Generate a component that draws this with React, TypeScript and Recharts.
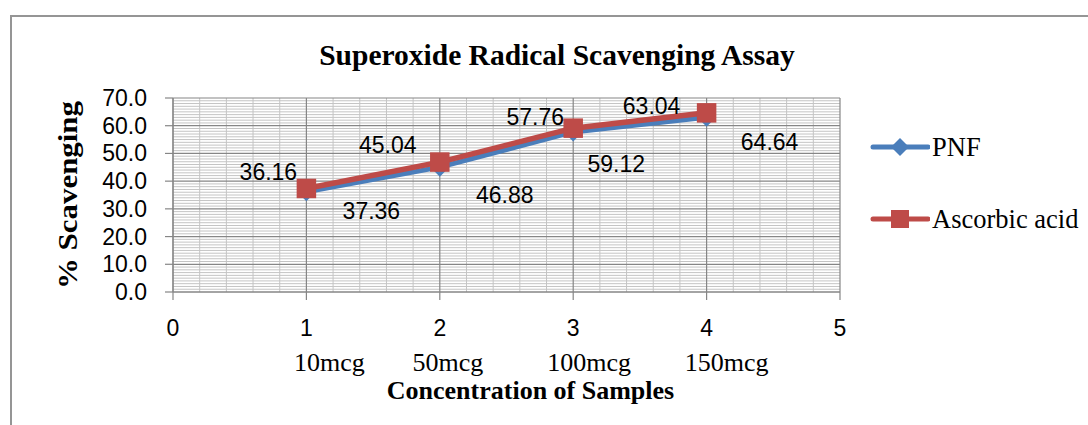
import React from 'react';
import { LineChart, Line, XAxis, YAxis, ReferenceLine, LabelList, Legend } from 'recharts';

const TITLE = 'Superoxide Radical Scavenging Assay';
const X_TITLE = 'Concentration of Samples';
const Y_TITLE = '% Scavenging';
const SERIES_NAMES = ['PNF', 'Ascorbic acid'];
const X_VALUES = [1, 2, 3, 4];
const CONCENTRATIONS = ['10mcg', '50mcg', '100mcg', '150mcg'];
const PNF = [36.16, 45.04, 57.76, 63.04];
const ASCORBIC = [37.36, 46.88, 59.12, 64.64];
const X_TICKS = [0, 1, 2, 3, 4, 5];
const Y_TICKS = [0, 10, 20, 30, 40, 50, 60, 70];

// style constants
const SANS = '"Liberation Sans", Arial, sans-serif';
const SERIF = '"Liberation Serif", "Times New Roman", serif';
const BLUE = '#4A7EBB';
const RED = '#BE4B48';
const MAJOR = '#868686';
const MINOR = '#c4c4c4';
const MCG_DX = [23, 8, 16, 20];
const PNF_LABEL_OFF = [[-38, -20], [-52, -22], [-38, -15], [-55, -11]];
const ASC_LABEL_OFF = [[65, 23], [65, 33], [43, 36], [63, 29]];

const data = X_VALUES.map((x, i) => ({ x, pnf: PNF[i], asc: ASCORBIC[i] }));

const minorY: number[] = [];
for (let v = 0; v <= 70; v += 1) if (v % 10 !== 0) minorY.push(v);
const minorX: number[] = [];
for (let k = 0; k <= 25; k += 1) if (k % 5 !== 0) minorX.push(k / 5);

const XTick = (props: any) => {
  const { x, y, payload } = props;
  const idx = X_VALUES.indexOf(payload.value);
  return (
    <g>
      <text x={x} y={y + 36} textAnchor="middle" fontFamily={SANS} fontSize={23} fill="#000">
        {payload.value}
      </text>
      {idx >= 0 && (
        <text x={x + MCG_DX[idx]} y={y + 71} textAnchor="middle" fontFamily={SERIF} fontSize={26} fill="#000">
          {CONCENTRATIONS[idx]}
        </text>
      )}
    </g>
  );
};

const YTick = (props: any) => {
  const { x, y, payload } = props;
  return (
    <text x={x} y={y + 8} textAnchor="end" fontFamily={SANS} fontSize={23} fill="#000">
      {Number(payload.value).toFixed(1)}
    </text>
  );
};

const Diamond = (props: any) => {
  const { cx, cy, index } = props;
  if (cx == null || cy == null) return <g key={`d${index}`} />;
  const r = 9.5;
  return (
    <path
      key={`d${index}`}
      d={`M${cx},${cy - r} L${cx + r},${cy} L${cx},${cy + r} L${cx - r},${cy} Z`}
      fill={BLUE}
      stroke="none"
    />
  );
};

const Square = (props: any) => {
  const { cx, cy, index } = props;
  if (cx == null || cy == null) return <g key={`s${index}`} />;
  const r = 9.75;
  return <rect key={`s${index}`} x={cx - r} y={cy - r} width={2 * r} height={2 * r} fill={RED} stroke="none" />;
};

const makeLabel = (offs: number[][]) => (props: any) => {
  const { x, y, value, index } = props;
  const o = offs[index] || [0, 0];
  return (
    <text x={x + o[0]} y={y + o[1] + 8} textAnchor="middle" fontFamily={SANS} fontSize={23} fill="#000">
      {value}
    </text>
  );
};

const renderLegend = () => (
  <div style={{ position: 'relative', width: 220, height: 120 }}>
    {SERIES_NAMES.map((name, i) => (
      <div
        key={name}
        style={{ position: 'absolute', left: 0, top: i * 72, height: 40, display: 'flex', alignItems: 'center' }}
      >
        <svg width={60} height={40}>
          <line x1={3} x2={58} y1={20} y2={20} stroke={i === 0 ? BLUE : RED} strokeWidth={5} strokeLinecap="round" />
          {i === 0 ? (
            <path d="M30,11 L39,20 L30,29 L21,20 Z" fill={BLUE} />
          ) : (
            <rect x={21} y={11} width={18} height={18} fill={RED} />
          )}
        </svg>
        <span style={{ fontFamily: SERIF, fontSize: 26.5, color: '#000', marginLeft: 2, whiteSpace: 'nowrap' }}>{name}</span>
      </div>
    ))}
  </div>
);

export default function App() {
  return (
    <div style={{ position: 'absolute', left: 0, top: 0, width: 1088, height: 425, overflow: 'hidden', background: '#fff' }}>
      <div
        style={{
          position: 'absolute',
          left: 10,
          top: 15,
          width: 1200,
          height: 600,
          borderLeft: '2px solid #959595',
          borderTop: '2px solid #959595',
        }}
      />
      <div style={{ position: 'absolute', left: 0, top: 0 }}>
        <LineChart width={1088} height={425} data={data} margin={{ top: 98, right: 248, left: 0, bottom: 0 }}>
          {minorY.map((v) => (
            <ReferenceLine key={`my${v}`} y={v} stroke={MINOR} strokeWidth={1} />
          ))}
          {minorX.map((v) => (
            <ReferenceLine key={`mx${v}`} x={v} stroke={MINOR} strokeWidth={1} />
          ))}
          {Y_TICKS.map((v) => (
            <ReferenceLine key={`My${v}`} y={v} stroke={MAJOR} strokeWidth={1.2} />
          ))}
          {X_TICKS.map((v) => (
            <ReferenceLine key={`Mx${v}`} x={v} stroke={MAJOR} strokeWidth={1.2} />
          ))}
          <XAxis
            type="number"
            dataKey="x"
            domain={[0, 5]}
            ticks={X_TICKS}
            allowDataOverflow
            height={133}
            tickSize={8}
            tickMargin={0}
            axisLine={{ stroke: MAJOR, strokeWidth: 1.2 }}
            tickLine={{ stroke: MAJOR, strokeWidth: 1.2 }}
            tick={<XTick />}
            interval={0}
            label={{
              content: (p: any) => {
                const vb = p.viewBox;
                return (
                  <text
                    x={vb.x + vb.width / 2 + 24}
                    y={vb.y + 107}
                    textAnchor="middle"
                    fontFamily={SERIF}
                    fontWeight="bold"
                    fontSize={26}
                    fill="#000"
                  >
                    {X_TITLE}
                  </text>
                );
              },
            }}
          />
          <YAxis
            type="number"
            domain={[0, 70]}
            ticks={Y_TICKS}
            allowDataOverflow
            width={173}
            tickSize={8}
            tickMargin={18}
            axisLine={{ stroke: MAJOR, strokeWidth: 1.2 }}
            tickLine={{ stroke: MAJOR, strokeWidth: 1.2 }}
            tick={<YTick />}
            interval={0}
            label={{
              content: (p: any) => {
                const vb = p.viewBox;
                const cx = 77;
                const cy = vb.y + vb.height / 2;
                return (
                  <text
                    x={cx}
                    y={cy}
                    transform={`rotate(-90, ${cx}, ${cy})`}
                    textAnchor="middle"
                    fontFamily={SERIF}
                    fontWeight="bold"
                    fontSize={28}
                    textLength={188}
                    lengthAdjust="spacingAndGlyphs"
                    fill="#000"
                  >
                    {Y_TITLE}
                  </text>
                );
              },
            }}
          />
          <Legend
            layout="vertical"
            align="center"
            verticalAlign="middle"
            content={renderLegend}
            wrapperStyle={{ left: 870, top: 127, width: 218, height: 120 }}
          />
          <Line
            type="linear"
            dataKey="pnf"
            name={SERIES_NAMES[0]}
            stroke={BLUE}
            strokeWidth={5}
            dot={Diamond}
            activeDot={false}
            isAnimationActive={false}
          >
            <LabelList dataKey="pnf" content={makeLabel(PNF_LABEL_OFF)} />
          </Line>
          <Line
            type="linear"
            dataKey="asc"
            name={SERIES_NAMES[1]}
            stroke={RED}
            strokeWidth={5.5}
            dot={Square}
            activeDot={false}
            isAnimationActive={false}
          >
            <LabelList dataKey="asc" content={makeLabel(ASC_LABEL_OFF)} />
          </Line>
        </LineChart>
      </div>
      <svg width={1088} height={425} style={{ position: 'absolute', left: 0, top: 0, pointerEvents: 'none' }}>
        <text x={557} y={65} textAnchor="middle" fontFamily={SERIF} fontWeight="bold" fontSize={29.5} fill="#000">
          {TITLE}
        </text>
      </svg>
    </div>
  );
}
